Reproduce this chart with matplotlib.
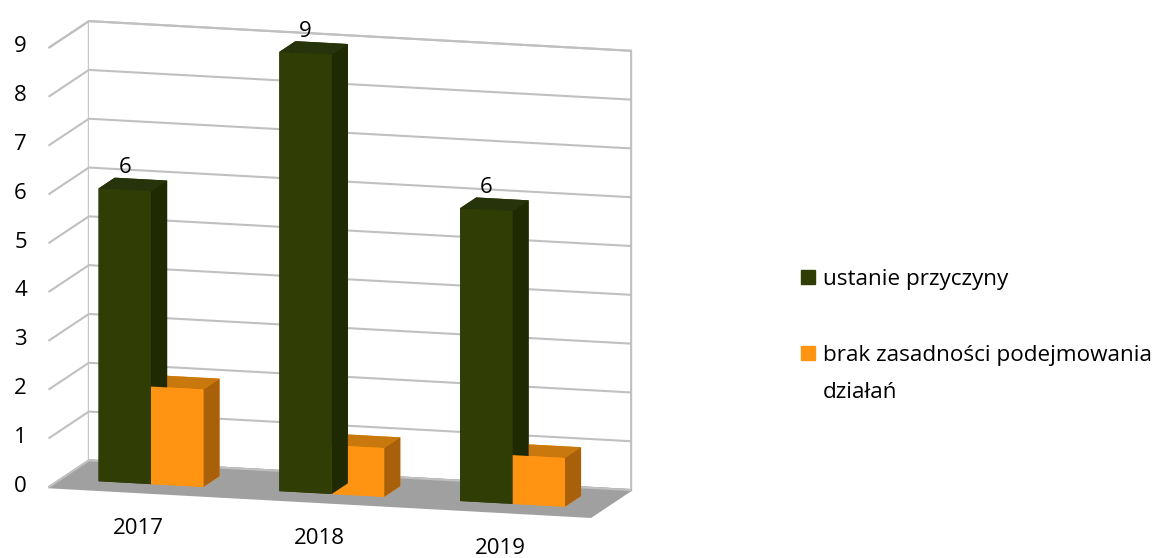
import numpy as np
import matplotlib
matplotlib.use("Agg")
import matplotlib.pyplot as plt
from matplotlib.patches import Patch

years = ["2017", "2018", "2019"]
ustanie = [6, 9, 6]
brak = [2, 1, 1]
series_names = ["ustanie przyczyny", "brak zasadności podejmowania"]
wrap_line = "działań"
z_ticks = list(range(10))

green = {"front": "#303d05", "side": "#1f2902", "top": "#27330a"}
orange = {"front": "#fe9411", "side": "#a8600a", "top": "#c8780c"}

plt.rcParams["font.family"] = ["Open Sans", "DejaVu Sans"]

fig = plt.figure(figsize=(11.63, 5.58), dpi=100)
ax = fig.add_axes([-0.008, 0.028, 0.588, 0.954], projection="3d")
ax.set_proj_type("ortho")
ax.view_init(elev=11, azim=-74)
ax.set_box_aspect((4.16, 1.08, 3.3), zoom=1.34)

n = len(years)
idx = np.arange(n)
bar_w = 0.29
y0, depth = 0.3, 0.4

xs = np.concatenate([idx + 0.5 - bar_w, idx + 0.5])
ys = np.full(2 * n, y0)
dz = np.array(ustanie + brak, dtype=float)
face_colors = []
for k in range(2 * n):
    c = green if k < n else orange
    # bar3d face order: -z, +z, -y, +y, -x, +x
    face_colors += [c["front"], c["top"], c["front"], c["front"], c["side"], c["side"]]
ax.bar3d(xs, ys, np.zeros(2 * n), bar_w, depth, dz, color=face_colors, shade=False)

ax.set_xlim(0, n)
ax.set_ylim(0, 1)
ax.set_zlim(0, 9)
ax.set_xticks([])
ax.set_yticks([])
ax.set_zticks(z_ticks)
ax.zaxis.set_tick_params(labelleft=False, labelright=False)
ax.zaxis._axinfo["tick"]["inward_factor"] = 0
ax.zaxis._axinfo["tick"]["outward_factor"] = 0
ax.zaxis._axinfo["grid"].update(color="#c0c0c0", linewidth=1.5)

ax.xaxis.set_pane_color((1, 1, 1, 1))
ax.yaxis.set_pane_color((1, 1, 1, 1))
ax.zaxis.set_pane_color("#a0a0a0")
for axis in (ax.xaxis, ax.yaxis, ax.zaxis):
    axis.line.set_color((0, 0, 0, 0))
    axis.label.set_visible(False)
    axis.pane.set_edgecolor("#c0c0c0")
    axis.pane.set_linewidth(1.5)
ax.zaxis.pane.set_edgecolor("#a0a0a0")

for z in z_ticks:
    ax.text(-0.12, 0, z, str(z), ha="right", va="center", fontsize=16)
for i, year in enumerate(years):
    ax.text(i + 0.5, 0, -0.75, year, ha="center", va="center", fontsize=16)
for i, v in enumerate(ustanie):
    ax.text(i + 0.5 - bar_w / 2, y0, v + 0.45, str(v), ha="center", va="center", fontsize=16)

handles = [Patch(color=green["front"]), Patch(color=orange["front"])]
fig.legend(handles, series_names, loc="center left", bbox_to_anchor=(0.6716, 0.431),
           frameon=False, handlelength=0.6, handleheight=0.6, handletextpad=0.35,
           labelspacing=2.45, borderpad=0.4, fontsize=16.2)
fig.text(823 / 1163, 1 - 392 / 558, wrap_line, ha="left", va="center", fontsize=16.2)

fig.savefig("out.png")
